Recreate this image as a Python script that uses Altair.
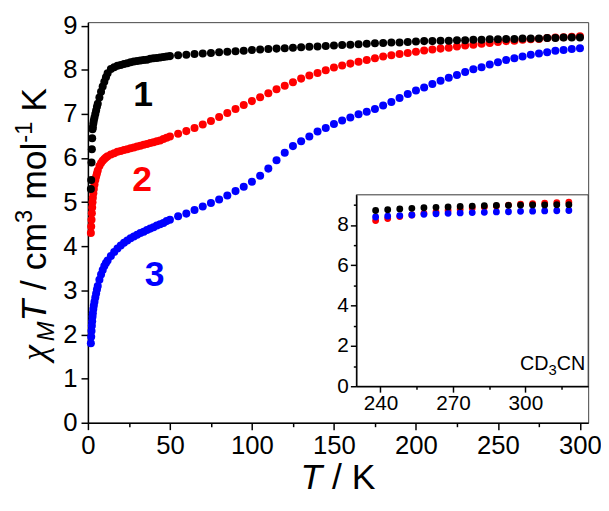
import altair as alt
import pandas as pd

# ---------------- data ----------------
T = [1.8, 2, 2.2, 2.4, 2.6, 2.8, 3, 3.3, 3.6, 4, 4.5, 5, 5.5, 6, 7, 8, 9, 10, 11, 12,
     14, 16, 18, 20, 22, 24, 26, 28, 30, 32, 34, 36, 38, 40, 42, 44, 46, 48, 50,
     55, 60, 65, 70, 75, 80, 85, 90, 95, 100,
     105, 110, 115, 120, 125, 130, 135, 140, 145, 150,
     155, 160, 165, 170, 175, 180, 185, 190, 195, 200,
     205, 210, 215, 220, 225, 230, 235, 240, 245, 250,
     255, 260, 265, 270, 275, 280, 285, 290, 295, 300]

CHI_1 = [5.3, 5.5, 5.9, 6.2, 6.45, 6.65, 6.7, 6.78, 6.85, 6.92, 7.0, 7.08, 7.16, 7.23, 7.37, 7.5, 7.62, 7.73, 7.83, 7.92,
         8.02, 8.06, 8.09, 8.11, 8.13, 8.15, 8.17, 8.19, 8.2, 8.21, 8.22, 8.23, 8.25, 8.26, 8.27, 8.28, 8.29, 8.3, 8.31,
         8.33, 8.34, 8.36, 8.37, 8.38, 8.40, 8.41, 8.42, 8.43, 8.45,
         8.46, 8.47, 8.48, 8.49, 8.5, 8.51, 8.52, 8.53, 8.54, 8.55,
         8.56, 8.57, 8.58, 8.59, 8.6, 8.61, 8.62, 8.62, 8.63, 8.64,
         8.65, 8.65, 8.66, 8.66, 8.67, 8.67, 8.68, 8.68, 8.69, 8.69,
         8.7, 8.7, 8.71, 8.71, 8.71, 8.72, 8.72, 8.73, 8.73, 8.73]

CHI_2 = [4.3, 4.45, 4.6, 4.75, 4.88, 5.0, 5.1, 5.2, 5.3, 5.4, 5.5, 5.58, 5.65, 5.72, 5.82, 5.89, 5.94, 5.98, 6.01, 6.04,
         6.08, 6.11, 6.14, 6.16, 6.18, 6.2, 6.22, 6.24, 6.26, 6.28, 6.3, 6.32, 6.34, 6.36, 6.38, 6.4, 6.43, 6.46, 6.49,
         6.55, 6.61, 6.68, 6.76, 6.84, 6.93, 7.02, 7.11, 7.2, 7.29,
         7.38, 7.47, 7.56, 7.64, 7.72, 7.8, 7.87, 7.93, 7.99, 8.05,
         8.1, 8.14, 8.18, 8.22, 8.26, 8.3, 8.33, 8.36, 8.38, 8.41,
         8.44, 8.46, 8.48, 8.5, 8.53, 8.55, 8.57, 8.59, 8.61, 8.63,
         8.65, 8.66, 8.68, 8.69, 8.7, 8.72, 8.73, 8.74, 8.75, 8.76]

CHI_3 = [1.8, 1.95, 2.08, 2.2, 2.3, 2.4, 2.48, 2.58, 2.66, 2.74, 2.84, 2.93, 3.02, 3.1, 3.24, 3.36, 3.46, 3.55, 3.62, 3.68,
         3.78, 3.87, 3.95, 4.02, 4.08, 4.13, 4.18, 4.22, 4.26, 4.3, 4.33, 4.37, 4.4, 4.43, 4.47, 4.5, 4.53, 4.57, 4.6,
         4.68, 4.74, 4.82, 4.9, 4.98, 5.06, 5.15, 5.25, 5.35, 5.46,
         5.6, 5.76, 5.95, 6.12, 6.27, 6.38, 6.49, 6.6, 6.68, 6.77,
         6.85, 6.92, 6.99, 7.05, 7.11, 7.19, 7.27, 7.36, 7.45, 7.53,
         7.6, 7.68, 7.75, 7.82, 7.88, 7.95, 8.01, 8.06, 8.12, 8.17,
         8.22, 8.26, 8.3, 8.34, 8.37, 8.4, 8.43, 8.45, 8.47, 8.49]

INSET_T = [238, 243, 248, 253, 258, 263, 268, 273, 278, 283, 288, 293, 298, 303, 308, 313, 318]
INSET_1 = [8.72, 8.76, 8.8, 8.83, 8.86, 8.88, 8.9, 8.92, 8.94, 8.96, 8.97, 8.98, 8.99, 9.0, 9.0, 9.01, 9.01]
INSET_2 = [8.22, 8.32, 8.42, 8.5, 8.58, 8.65, 8.72, 8.78, 8.84, 8.9, 8.95, 8.99, 9.03, 9.06, 9.09, 9.11, 9.13]
INSET_3 = [8.4, 8.44, 8.47, 8.5, 8.53, 8.56, 8.58, 8.6, 8.62, 8.63, 8.65, 8.66, 8.68, 8.69, 8.7, 8.71, 8.72]

SERIES = ["1", "2", "3"]
COLORS = ["#000000", "#ff0000", "#0000ff"]
DRAW_ORDER = [3, 1, 2]          # red first, then blue, black on top
LABEL_T = [33.7, 33.0, 40.6]
LABEL_CHI = [7.43, 5.51, 3.34]

MAIN_X_TICKS = [0, 25, 50, 75, 100, 125, 150, 175, 200, 225, 250, 275, 300]
MAIN_Y_TICKS = [0, 0.5, 1, 1.5, 2, 2.5, 3, 3.5, 4, 4.5, 5, 5.5, 6, 6.5, 7, 7.5, 8, 8.5, 9]
INSET_X_TICKS = [240, 255, 270, 285, 300, 315]
INSET_Y_TICKS = [0, 1, 2, 3, 4, 5, 6, 7, 8, 9]

# ---------------- tables ----------------
rows = []
for s, vals, o in zip(SERIES, [CHI_1, CHI_2, CHI_3], DRAW_ORDER):
    for t, v in zip(T, vals):
        rows.append({"T": t, "chi": v, "series": s, "draw": o})
main_df = pd.DataFrame(rows)

irows = []
for s, vals, o in zip(SERIES, [INSET_1, INSET_2, INSET_3], DRAW_ORDER):
    for t, v in zip(INSET_T, vals):
        irows.append({"T": t, "chi": v, "series": s, "draw": o})
inset_df = pd.DataFrame(irows)

label_df = pd.DataFrame({"T": LABEL_T, "chi": LABEL_CHI, "series": SERIES})
ONE = pd.DataFrame({"a": [0]})

# ---------------- layout ----------------
W, H = 507, 406
FONT = "Liberation Sans"
TICK_FS = 26
IN_FS = 21
color_scale = alt.Scale(domain=SERIES, range=COLORS)


def axis(values, label_test, major, minor, fs, **kw):
    return alt.Axis(
        values=values,
        labelExpr=f"{label_test} ? '' + datum.value : ''",
        tickSize={"condition": {"test": label_test, "value": major}, "value": minor},
        labelFont=FONT, labelFontSize=fs, labelColor="black",
        domainColor="black", domainWidth=1.5, tickColor="black", tickWidth=1.5,
        labelOverlap=False, labelFlush=False, grid=False, title=None, **kw)


x_main = alt.Scale(domain=[0, 305], nice=False, zero=False)
y_main = alt.Scale(domain=[0, 9.08], nice=False, zero=False)

points = alt.Chart(main_df).mark_circle(size=66, opacity=1).encode(
    x=alt.X("T:Q", scale=x_main,
            axis=axis(MAIN_X_TICKS, "datum.value % 50 === 0", 7, 4, TICK_FS, labelPadding=3, orient="bottom")),
    y=alt.Y("chi:Q", scale=y_main,
            axis=axis(MAIN_Y_TICKS, "datum.value % 1 === 0", 7, 4, TICK_FS, labelPadding=4, orient="left")),
    color=alt.Color("series:N", scale=color_scale, legend=None),
    order=alt.Order("draw:Q"),
)

labels = alt.Chart(label_df).mark_text(font=FONT, fontSize=36, fontWeight="bold",
                                        align="center", baseline="middle").encode(
    x="T:Q", y="chi:Q", text="series:N",
    color=alt.Color("series:N", scale=color_scale, legend=None),
)


def piece(text, x, y, size, style="normal", font=FONT, angle=0, align="left"):
    return alt.Chart(ONE).mark_text(text=text, font=font, fontSize=size, fontStyle=style,
                                    angle=angle, align=align, baseline="alphabetic",
                                    color="black").encode(x=alt.value(x), y=alt.value(y))


# y-axis title, rotated, built from pieces (reads bottom to top)
F, S = 36, 24
base_x = -42
segs = [  # text, size, style, font, shift, width(em), gap after (em of F)
    ("χ", F, "italic", "Liberation Serif", 0, 0.55, 0),
    ("M", S, "italic", FONT, 8, 0.833, 0),
    ("T", F, "italic", FONT, 0, 0.611, 0.278),
    ("/ cm", F, "normal", FONT, 0, 1.889, 0),
    ("3", S, "normal", FONT, -15, 0.556, 0.278),
    ("mol", F, "normal", FONT, 0, 1.611, 0),
    ("-1", S, "normal", FONT, -15, 0.889, 0.278),
    ("K", F, "normal", FONT, 0, 0.667, 0),
]
total = sum(w * sz + g * F for _, sz, _, _, _, w, g in segs)
cy = 205
yy = cy + total / 2
title_layers = []
for txt, sz, st, fn, sh, w, g in segs:
    title_layers.append(piece(txt, base_x + sh, yy, sz, st, fn, angle=270))
    yy -= w * sz + g * F

# x-axis title
xt_w = 0.611 * F + 0.278 * F + 1.223 * F
xt0 = W / 2 - xt_w / 2
XT_Y = 473
title_layers.append(piece("T", xt0, XT_Y, F, "italic"))
title_layers.append(piece("/ K", xt0 + 0.889 * F, XT_Y, F))

main = alt.layer(points, labels, *title_layers)

# ---------------- inset ----------------
IX0, IX1, IY0, IY1 = 272, W, 369, 175
x_in = alt.Scale(domain=[230, 326], range=[IX0, IX1], nice=False, zero=False)
y_in = alt.Scale(domain=[0, 9.5], range=[IY0, IY1], nice=False, zero=False)

box = alt.Chart(ONE).mark_rect(fill="white", stroke="#333", strokeWidth=1).encode(
    x=alt.datum(230), x2=alt.datum(326), y=alt.datum(0), y2=alt.datum(9.5))

ipoints = alt.Chart(inset_df).mark_circle(size=48, opacity=1).encode(
    x=alt.X("T:Q", scale=x_in,
            axis=axis(INSET_X_TICKS, "datum.value % 30 === 0", 6, 3, IN_FS,
                      labelPadding=1, orient="bottom", offset=IY0 - H, zindex=1)),
    y=alt.Y("chi:Q", scale=y_in,
            axis=axis(INSET_Y_TICKS, "datum.value % 2 === 0", 6, 3, IN_FS,
                      labelPadding=2, orient="left", offset=-IX0, zindex=1)),
    color=alt.Color("series:N", scale=color_scale, legend=None),
    order=alt.Order("draw:Q"),
)

CF, CS = 20, 15
cx = IX1 - 3
cd = [
    piece("CN", cx, 353, CF, align="right"),
    piece("3", cx - 1.444 * CF, 358, CS, align="right"),
    piece("CD", cx - 1.444 * CF - 0.556 * CS, 353, CF, align="right"),
]

inset = alt.layer(box, ipoints, *cd)

chart = alt.layer(main, inset).resolve_scale(x="independent", y="independent").properties(
    width=W, height=H,
    padding={"left": 81, "top": 11, "right": 13, "bottom": 78},
    autosize=alt.AutoSizeParams(type="none"),
).configure_view(stroke="#444", strokeWidth=1)

chart.save("out.html", embed_options={"renderer": "svg", "actions": False})
